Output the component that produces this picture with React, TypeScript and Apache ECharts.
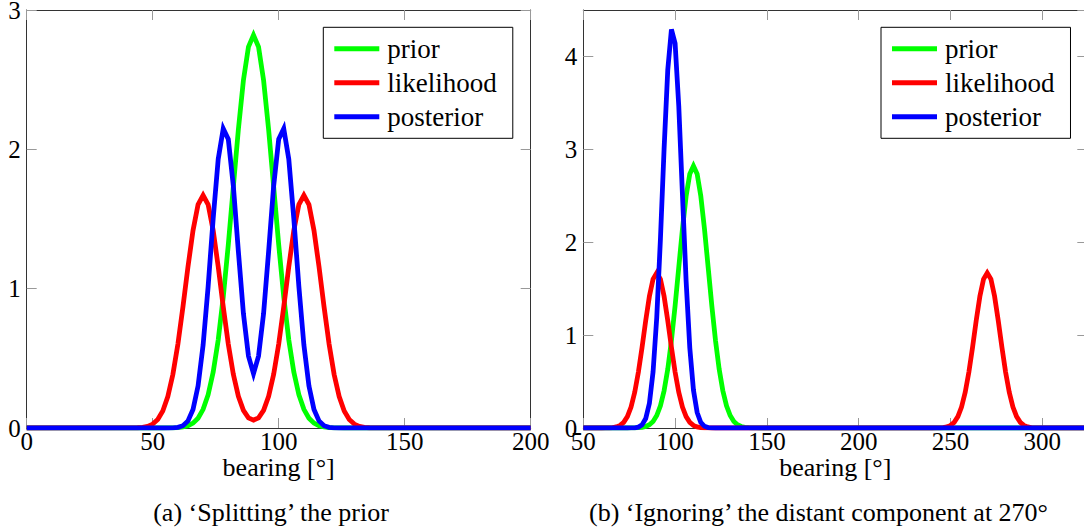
import React, { useEffect, useRef } from 'react';
import * as echarts from 'echarts';

// ---------- Panel (a): bearing grid and densities ----------
const leftX = [
  0,
  40, 42, 44, 46, 48, 50, 52, 54, 56, 58, 60, 62, 64, 66, 68, 70, 72, 74, 76, 78,
  80, 82, 84, 86, 88, 90, 92, 94, 96, 98, 100, 102, 104, 106, 108, 110, 112, 114, 116, 118,
  120, 122, 124, 126, 128, 130, 132, 134, 136, 138, 140,
  200,
];
const leftPrior = [
  0,
  0, 0, 0, 0, 0, 0, 0, 0,
  0.0004, 0.0012, 0.003, 0.0072, 0.0163, 0.035, 0.0706, 0.134, 0.239, 0.401, 0.633, 0.941,
  1.316, 1.731, 2.143, 2.496, 2.735, 2.82, 2.735, 2.496, 2.143, 1.731, 1.316, 0.941, 0.633,
  0.401, 0.239, 0.134, 0.0706, 0.035, 0.0163, 0.0072, 0.003, 0.0012, 0.0004,
  0, 0, 0, 0, 0, 0, 0, 0,
  0,
];
const leftLikelihood = [
  0,
  0.0002, 0.0006, 0.0017, 0.0047, 0.012, 0.0282, 0.0612, 0.1226, 0.226, 0.384, 0.602, 0.869,
  1.157, 1.418, 1.603, 1.67, 1.603, 1.418, 1.157, 0.869, 0.602, 0.385, 0.228, 0.127, 0.073,
  0.056, 0.073, 0.127, 0.228, 0.385, 0.602, 0.869, 1.157, 1.418, 1.603, 1.67, 1.603, 1.418,
  1.157, 0.869, 0.602, 0.384, 0.226, 0.1226, 0.0612, 0.0282, 0.012, 0.0047, 0.0017, 0.0006, 0.0002,
  0,
];
const leftPosterior = [
  0,
  0, 0, 0, 0, 0, 0, 0, 0,
  0, 0.0012, 0.0048, 0.0168, 0.0508, 0.133, 0.302, 0.595, 1.016, 1.503, 1.93, 2.148,
  2.073, 1.737, 1.267, 0.821, 0.516, 0.39, 0.516, 0.821, 1.267, 1.737, 2.073, 2.148, 1.93,
  1.503, 1.016, 0.595, 0.302, 0.133, 0.0508, 0.0168, 0.0048, 0.0012, 0,
  0, 0, 0, 0, 0, 0, 0, 0,
  0,
];

// ---------- Panel (b) ----------
const rightX = [
  50,
  60, 62, 64, 66, 68, 70, 72, 74, 76, 78, 80, 82, 84, 86, 88, 90, 92, 94, 96, 98,
  100, 102, 104, 106, 108, 110, 112, 114, 116, 118, 120, 122, 124, 126, 128, 130, 132, 134, 136, 138,
  140, 142, 144, 146,
  240, 242, 244, 246, 248, 250, 252, 254, 256, 258, 260, 262, 264, 266, 268, 270,
  272, 274, 276, 278, 280, 282, 284, 286, 288, 290, 292, 294, 296, 298, 300,
  324.5,
];
const rightPrior = [
  0,
  0, 0, 0, 0, 0, 0, 0, 0,
  0.0004, 0.0012, 0.003, 0.0072, 0.0163, 0.035, 0.0706, 0.134, 0.239, 0.401, 0.633, 0.941,
  1.316, 1.731, 2.143, 2.496, 2.735, 2.82, 2.735, 2.496, 2.143, 1.731, 1.316, 0.941, 0.633,
  0.401, 0.239, 0.134, 0.0706, 0.035, 0.0163, 0.0072, 0.003, 0.0012, 0.0004,
  0,
  0, 0, 0, 0, 0, 0, 0, 0, 0, 0, 0, 0, 0, 0, 0, 0,
  0, 0, 0, 0, 0, 0, 0, 0, 0, 0, 0, 0, 0, 0, 0,
  0,
];
const rightLikelihood = [
  0,
  0.0002, 0.0006, 0.0017, 0.0047, 0.012, 0.0282, 0.0612, 0.1226, 0.226, 0.384, 0.602, 0.869,
  1.157, 1.418, 1.603, 1.67, 1.603, 1.418, 1.157, 0.869, 0.602, 0.384, 0.226, 0.1226, 0.0612,
  0.0282, 0.012, 0.0047, 0.0017, 0.0006, 0.0002,
  0, 0, 0, 0, 0, 0, 0, 0, 0, 0, 0, 0, 0,
  0.0002, 0.0006, 0.0017, 0.0047, 0.012, 0.0282, 0.0612, 0.1226, 0.226, 0.384, 0.602, 0.869,
  1.157, 1.418, 1.603, 1.67, 1.603, 1.418, 1.157, 0.869, 0.602, 0.384, 0.226, 0.1226, 0.0612,
  0.0282, 0.012, 0.0047, 0.0017, 0.0006, 0.0002,
  0,
];
const rightPosterior = [
  0,
  0, 0, 0, 0, 0, 0, 0, 0,
  0.0005, 0.0024, 0.0097, 0.0336, 0.1015, 0.266, 0.604, 1.189, 2.03, 3.004, 3.856, 4.291,
  4.141, 3.464, 2.514, 1.581, 0.863, 0.408, 0.167, 0.0595, 0.0184, 0.0049, 0.0011,
  0, 0, 0, 0, 0, 0, 0, 0, 0, 0, 0, 0, 0,
  0, 0, 0, 0, 0, 0, 0, 0, 0, 0, 0, 0, 0, 0, 0, 0,
  0, 0, 0, 0, 0, 0, 0, 0, 0, 0, 0, 0, 0, 0, 0,
  0,
];

const seriesNames = ['prior', 'likelihood', 'posterior'];
const seriesColors = ['#00ff00', '#ff0000', '#0000ff'];
const axisName = 'bearing [°]';
const captionA = '(a) ‘Splitting’ the prior';
const captionB = '(b) ‘Ignoring’ the distant component at 270°';

const FONT = '"Liberation Serif", "Times New Roman", serif';

function pairs(xs: number[], ys: number[]) {
  return xs.map((x, i) => [x, ys[i]]);
}

export default function App() {
  const ref = useRef<HTMLDivElement>(null);

  useEffect(() => {
    if (!ref.current) return;
    const chart = echarts.init(ref.current, null, { renderer: 'svg' });
    const frame = '#333';
    const tickColor = '#999';

    const xAxisBottom = (g: number, min: number, max: number, showMax: boolean) => ({
      type: 'value', gridIndex: g, min, max, interval: 50, position: 'bottom',
      axisLine: { show: true, onZero: false, lineStyle: { color: frame, width: 1 } },
      axisTick: { show: true, inside: true, length: 10, lineStyle: { color: tickColor, width: 1 } },
      axisLabel: { show: true, margin: 1, fontSize: 25, color: '#000', fontFamily: FONT, showMaxLabel: showMax, showMinLabel: true, hideOverlap: false },
      splitLine: { show: false },
      name: axisName, nameLocation: 'middle', nameGap: 26, nameMoveOverlap: false,
      nameTextStyle: { fontSize: 26, color: '#000', fontFamily: FONT },
    });
    const xAxisTop = (g: number, min: number, max: number) => ({
      type: 'value', gridIndex: g, min, max, interval: 50, position: 'top',
      axisLine: { show: true, onZero: false, lineStyle: { color: frame, width: 1 } },
      axisTick: { show: true, inside: true, length: 10, lineStyle: { color: tickColor, width: 1 } },
      axisLabel: { show: false },
      splitLine: { show: false },
    });
    const yAxisLeft = (g: number, max: number, showMax: boolean) => ({
      type: 'value', gridIndex: g, min: 0, max, interval: 1, position: 'left',
      axisLine: { show: true, onZero: false, lineStyle: { color: frame, width: 1 } },
      axisTick: { show: true, inside: true, length: 10, lineStyle: { color: tickColor, width: 1 } },
      axisLabel: { show: true, margin: 6, fontSize: 25, lineHeight: 19, padding: [3, 0, 0, 0], color: '#000', fontFamily: FONT, showMaxLabel: showMax, showMinLabel: true, hideOverlap: false },
      splitLine: { show: false },
    });
    const yAxisRight = (g: number, max: number) => ({
      type: 'value', gridIndex: g, min: 0, max, interval: 1, position: 'right',
      axisLine: { show: true, onZero: false, lineStyle: { color: frame, width: 1 } },
      axisTick: { show: true, inside: true, length: 10, lineStyle: { color: tickColor, width: 1 } },
      axisLabel: { show: false },
      splitLine: { show: false },
    });

    const panelData = [
      { x: leftX, ys: [leftPrior, leftLikelihood, leftPosterior], xi: 0, yi: 0 },
      { x: rightX, ys: [rightPrior, rightLikelihood, rightPosterior], xi: 2, yi: 2 },
    ];
    const series: any[] = [];
    panelData.forEach((p) => {
      p.ys.forEach((ys, k) => {
        series.push({
          type: 'line',
          name: seriesNames[k],
          xAxisIndex: p.xi,
          yAxisIndex: p.yi,
          data: pairs(p.x, ys),
          showSymbol: false,
          symbol: 'none',
          color: seriesColors[k],
          itemStyle: { color: seriesColors[k] },
          lineStyle: { width: 4.8, color: seriesColors[k], join: 'miter', miterLimit: 10 },
          z: 2 + k,
        });
      });
    });

    const legend = (left: number) => ({
      data: seriesNames,
      orient: 'vertical',
      left,
      top: 27.3,
      icon: 'rect',
      itemWidth: 45,
      itemHeight: 5,
      itemGap: 7,
      padding: [8, 16, 8, 11],
      borderColor: '#000',
      borderWidth: 1,
      borderRadius: 0,
      backgroundColor: '#fff',
      itemStyle: { borderWidth: 0 },
      textStyle: { fontSize: 27, color: '#000', fontFamily: FONT, padding: [0, 0, 0, 3] },
      selectedMode: false,
      z: 10,
    });

    const option: any = {
      animation: false,
      textStyle: { fontFamily: FONT },
      grid: [
        { left: 26.7, top: 10, width: 504, height: 418, containLabel: false, outerBoundsMode: 'none' },
        { left: 583.3, top: 10, width: 504, height: 418, containLabel: false, outerBoundsMode: 'none' },
      ],
      xAxis: [
        xAxisBottom(0, 0, 200, true),
        xAxisTop(0, 0, 200),
        xAxisBottom(1, 50, 324.5, false),
        xAxisTop(1, 50, 324.5),
      ],
      yAxis: [
        yAxisLeft(0, 3, true),
        yAxisRight(0, 3),
        yAxisLeft(1, 4.5, false),
        yAxisRight(1, 4.5),
      ],
      legend: [legend(323.3), legend(881)],
      series,
      graphic: [
        {
          type: 'text', x: 271, y: 512, z: 20,
          style: { text: captionA, font: '26px ' + FONT, fill: '#000', align: 'center', verticalAlign: 'middle', textAlign: 'center', textVerticalAlign: 'middle' },
        },
        {
          type: 'text', x: 818.5, y: 512, z: 20,
          style: { text: captionB, font: '26px ' + FONT, fill: '#000', align: 'center', verticalAlign: 'middle', textAlign: 'center', textVerticalAlign: 'middle' },
        },
      ],
    };
    chart.setOption(option);
    return () => chart.dispose();
  }, []);

  return (
    <div
      ref={ref}
      style={{ position: 'absolute', left: 0, top: 0, width: 1084, height: 530, background: '#fff' }}
    />
  );
}
